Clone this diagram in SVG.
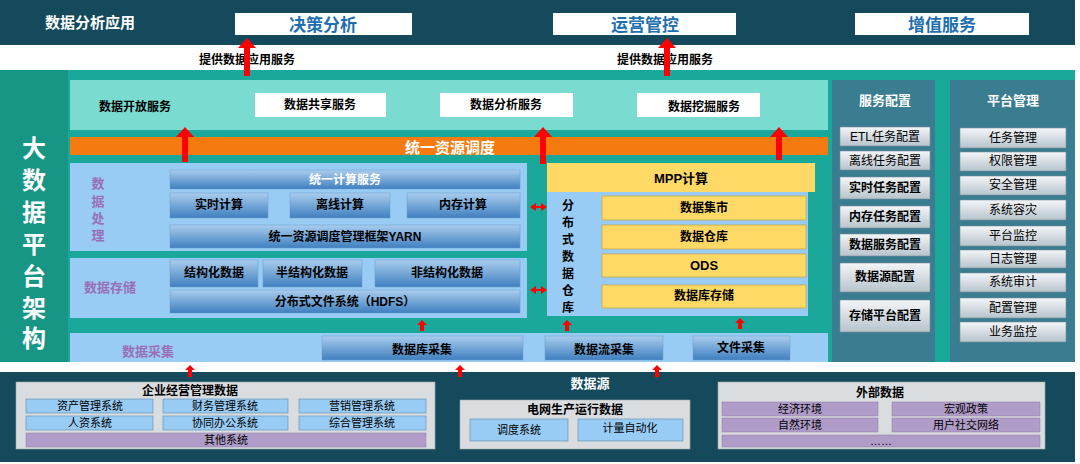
<svg xmlns="http://www.w3.org/2000/svg" width="1080" height="464" viewBox="0 0 1080 464">
<defs>
<style>
text{font-family:"Liberation Sans","Noto Sans CJK SC",sans-serif;font-weight:bold;text-anchor:middle;dominant-baseline:central}
.tt{font-size:17px;fill:#1f6fb0;font-weight:bold}
.b{fill:#000;font-size:12px}
.big{font-size:24px;fill:#fff}
.blue{fill:url(#gb);stroke:#6d9cc8;stroke-width:0.5}
.bt{fill:#000;font-size:12px}
.yel{fill:#ffd966;stroke:#c9a84a;stroke-width:0.8}
.gray{fill:url(#gg);stroke:#7a8d99;stroke-width:0.6}
.gt{fill:#000;font-size:12px;font-weight:normal}
.wt{fill:#fff;font-size:13px}
.pur{fill:#9970b8;font-size:13px}
.lb{fill:#99ccf5}
.sb{fill:#99ccf5;stroke:#5a8ab0;stroke-width:0.6}
.sp{fill:#b09cc8;stroke:#8a7aa0;stroke-width:0.5}
.st{fill:#000;font-size:11px;font-weight:normal}
.arr{fill:#f00}
</style>
<linearGradient id="gb" x1="0" y1="0" x2="0" y2="1"><stop offset="0" stop-color="#a9cdee"/><stop offset="1" stop-color="#3f7fbf"/></linearGradient>
<linearGradient id="gg" x1="0" y1="0" x2="0" y2="1"><stop offset="0" stop-color="#f4f6f8"/><stop offset="1" stop-color="#b7c3cc"/></linearGradient>
</defs>
<rect width="1080" height="464" fill="#fff"/>
<g id="apps">
<rect x="0" y="0" width="1075" height="45" fill="#154a5c"/>
<text x="90" y="22" class="wt" style="font-size:15px">数据分析应用</text>
<rect x="235" y="13" width="177" height="22" fill="#fff"/><text x="323" y="25" class="tt">决策分析</text>
<rect x="553" y="13" width="183" height="22" fill="#fff"/><text x="645" y="25" class="tt">运营管控</text>
<rect x="855" y="13" width="174" height="22" fill="#fff"/><text x="942" y="25" class="tt">增值服务</text>
<text x="247" y="60" class="b">提供数据应用服务</text>
<text x="665" y="60" class="b">提供数据应用服务</text>
</g>
<g id="platform">
<rect x="0" y="70" width="1075" height="292" fill="#1aa89a"/>
<rect x="0" y="70" width="68" height="292" fill="#179686"/>
<text x="34" y="148" class="big">大</text>
<text x="34" y="180" class="big">数</text>
<text x="34" y="212" class="big">据</text>
<text x="34" y="244" class="big">平</text>
<text x="34" y="276" class="big">台</text>
<text x="34" y="308" class="big">架</text>
<text x="34" y="338" class="big">构</text>
</g>
<g id="open">
<rect x="70" y="80" width="758" height="50" fill="#7adbd0"/>
<text x="135" y="107" class="b">数据开放服务</text>
<rect x="255" y="93" width="131" height="24" fill="#fff"/><text x="320" y="105" class="b">数据共享服务</text>
<rect x="440" y="93" width="133" height="24" fill="#fff"/><text x="506" y="105" class="b">数据分析服务</text>
<rect x="637" y="93" width="123" height="24" fill="#fff"/><text x="704" y="107" class="b">数据挖掘服务</text>
</g>
<g id="sched">
<rect x="70" y="137" width="758" height="18" fill="#f57a10"/>
<text x="450" y="147" style="font-size:15px;fill:#fff">统一资源调度</text>
</g>
<g id="proc">
<rect x="70" y="163" width="457" height="88" class="lb"/>
<text x="98" y="183" class="pur">数</text><text x="98" y="201" class="pur">据</text><text x="98" y="218" class="pur">处</text><text x="98" y="235" class="pur">理</text>
<rect x="170" y="170" width="350" height="19" class="blue"/><text x="345" y="180" class="wt" style="font-size:12px">统一计算服务</text>
<rect x="170" y="193" width="98" height="25" class="blue"/><text x="219" y="205" class="bt">实时计算</text>
<rect x="290" y="193" width="100" height="25" class="blue"/><text x="340" y="205" class="bt">离线计算</text>
<rect x="407" y="193" width="113" height="25" class="blue"/><text x="463" y="205" class="bt">内存计算</text>
<rect x="170" y="225" width="350" height="23" class="blue"/><text x="345" y="237" class="bt">统一资源调度管理框架YARN</text>
</g>
<g id="store">
<rect x="70" y="258" width="457" height="60" class="lb"/>
<text x="110" y="287" class="pur">数据存储</text>
<rect x="170" y="260" width="88" height="27" class="blue"/><text x="214" y="273" class="bt">结构化数据</text>
<rect x="263" y="260" width="99" height="27" class="blue"/><text x="312" y="273" class="bt">半结构化数据</text>
<rect x="375" y="260" width="145" height="27" class="blue"/><text x="447" y="273" class="bt">非结构化数据</text>
<rect x="170" y="290" width="350" height="23" class="blue"/><text x="345" y="302" class="bt">分布式文件系统（HDFS）</text>
</g>
<g id="mpp">
<rect x="547" y="192" width="261" height="124" class="lb"/>
<rect x="547" y="163" width="268" height="29" fill="#ffd966"/>
<text x="681" y="178" class="b" style="font-size:13px">MPP计算</text>
<text x="568" y="206" class="b">分</text><text x="568" y="223" class="b">布</text><text x="568" y="240" class="b">式</text><text x="568" y="257" class="b">数</text><text x="568" y="274" class="b">据</text><text x="568" y="291" class="b">仓</text><text x="568" y="308" class="b">库</text>
<rect x="602" y="196" width="204" height="24" class="yel"/><text x="704" y="208" class="b">数据集市</text>
<rect x="602" y="225" width="204" height="24" class="yel"/><text x="704" y="237" class="b">数据仓库</text>
<rect x="602" y="254" width="204" height="23" class="yel"/><text x="704" y="265" class="b" style="font-size:13px">ODS</text>
<rect x="602" y="285" width="204" height="23" class="yel"/><text x="704" y="296" class="b">数据库存储</text>
</g>
<g id="collect">
<rect x="70" y="333" width="758" height="29" class="lb"/>
<text x="148" y="351" class="pur">数据采集</text>
<rect x="322" y="336" width="201" height="24" class="blue"/><text x="422" y="350" class="bt">数据库采集</text>
<rect x="545" y="336" width="118" height="24" class="blue"/><text x="604" y="350" class="bt">数据流采集</text>
<rect x="693" y="336" width="97" height="24" class="blue"/><text x="741" y="348" class="bt">文件采集</text>
</g>
<g id="svccfg">
<rect x="832" y="80" width="103" height="282" fill="#3a7c90"/>
<text x="885" y="100" class="wt">服务配置</text>
<rect x="840" y="127" width="90" height="19" class="gray"/><text x="885" y="137" class="gt">ETL任务配置</text>
<rect x="840" y="151" width="90" height="19" class="gray"/><text x="885" y="161" class="gt">离线任务配置</text>
<rect x="840" y="177" width="90" height="22" class="gray"/><text x="885" y="188" class="gt" style="font-weight:bold">实时任务配置</text>
<rect x="840" y="206" width="90" height="22" class="gray"/><text x="885" y="217" class="gt" style="font-weight:bold">内存任务配置</text>
<rect x="840" y="234" width="90" height="22" class="gray"/><text x="885" y="245" class="gt" style="font-weight:bold">数据服务配置</text>
<rect x="840" y="263" width="90" height="29" class="gray"/><text x="885" y="277" class="gt" style="font-weight:bold">数据源配置</text>
<rect x="840" y="300" width="90" height="32" class="gray"/><text x="885" y="316" class="gt" style="font-weight:bold">存储平台配置</text>
</g>
<g id="platmgr">
<rect x="950" y="80" width="125" height="282" fill="#3a7c90"/>
<text x="1013" y="100" class="wt">平台管理</text>
<rect x="960" y="128" width="106" height="20" class="gray"/><text x="1013" y="138" class="gt">任务管理</text>
<rect x="960" y="152" width="106" height="19" class="gray"/><text x="1013" y="161" class="gt">权限管理</text>
<rect x="960" y="176" width="106" height="19" class="gray"/><text x="1013" y="185" class="gt">安全管理</text>
<rect x="960" y="200" width="106" height="20" class="gray"/><text x="1013" y="210" class="gt">系统容灾</text>
<rect x="960" y="226" width="106" height="20" class="gray"/><text x="1013" y="236" class="gt">平台监控</text>
<rect x="960" y="250" width="106" height="18" class="gray"/><text x="1013" y="259" class="gt">日志管理</text>
<rect x="960" y="273" width="106" height="19" class="gray"/><text x="1013" y="282" class="gt">系统审计</text>
<rect x="960" y="298" width="106" height="20" class="gray"/><text x="1013" y="308" class="gt">配置管理</text>
<rect x="960" y="322" width="106" height="20" class="gray"/><text x="1013" y="332" class="gt">业务监控</text>
</g>
<g id="sources">
<rect x="0" y="372" width="1075" height="90" fill="#154a5c"/>
<text x="590" y="383" class="wt">数据源</text>
<rect x="16" y="382" width="419" height="67" fill="#d9dde0" stroke="#9aa" stroke-width="0.6"/>
<text x="190" y="391" class="b">企业经营管理数据</text>
<rect x="26" y="399" width="127" height="14" class="sb"/><text x="90" y="406" class="st">资产管理系统</text>
<rect x="163" y="399" width="125" height="14" class="sb"/><text x="225" y="406" class="st">财务管理系统</text>
<rect x="299" y="399" width="127" height="14" class="sb"/><text x="362" y="406" class="st">营销管理系统</text>
<rect x="26" y="416" width="127" height="14" class="sb"/><text x="90" y="423" class="st">人资系统</text>
<rect x="163" y="416" width="125" height="14" class="sb"/><text x="225" y="423" class="st">协同办公系统</text>
<rect x="299" y="416" width="127" height="14" class="sb"/><text x="362" y="423" class="st">综合管理系统</text>
<rect x="26" y="433" width="400" height="14" class="sp"/><text x="226" y="440" class="st">其他系统</text>
<rect x="460" y="400" width="230" height="49" fill="#d9dde0" stroke="#9aa" stroke-width="0.6"/>
<text x="575" y="410" class="b">电网生产运行数据</text>
<rect x="470" y="419" width="98" height="22" class="sb"/><text x="519" y="430" class="st">调度系统</text>
<rect x="578" y="419" width="105" height="22" class="sb"/><text x="630" y="428" class="st">计量自动化</text>
<rect x="718" y="382" width="327" height="67" fill="#d9dde0" stroke="#9aa" stroke-width="0.6"/>
<text x="880" y="393" class="b">外部数据</text>
<rect x="722" y="402" width="156" height="14" class="sp"/><text x="800" y="409" class="st">经济环境</text>
<rect x="892" y="402" width="148" height="14" class="sp"/><text x="966" y="409" class="st">宏观政策</text>
<rect x="722" y="418" width="156" height="14" class="sp"/><text x="800" y="425" class="st">自然环境</text>
<rect x="892" y="418" width="148" height="14" class="sp"/><text x="966" y="425" class="st">用户社交网络</text>
<rect x="722" y="435" width="318" height="12" class="sp"/><text x="881" y="441" class="st">……</text>
</g>
<g id="connectors">
<path class="arr" d="M247 38 L256 48 L250 48 L250 76 L244 76 L244 48 L238 48 Z"/>
<path class="arr" d="M667 38 L676 48 L670 48 L670 76 L664 76 L664 48 L658 48 Z"/>
<path class="arr" d="M185 127 L194 137 L188 137 L188 162 L182 162 L182 137 L176 137 Z"/>
<path class="arr" d="M543 127 L552 137 L546 137 L546 164 L540 164 L540 137 L534 137 Z"/>
<path class="arr" d="M779 127 L788 137 L782 137 L782 160 L776 160 L776 137 L770 137 Z"/>
<path class="arr" d="M530 207 L536 203 L536 206 L541 206 L541 203 L547 207 L541 211 L541 208 L536 208 L536 211 Z"/>
<path class="arr" d="M530 290 L536 286 L536 289 L541 289 L541 286 L547 290 L541 294 L541 291 L536 291 L536 294 Z"/>
<path class="arr" d="M422 320 L427 325 L424 325 L424 331 L420 331 L420 325 L417 325 Z"/>
<path class="arr" d="M567 320 L572 325 L569 325 L569 331 L565 331 L565 325 L562 325 Z"/>
<path class="arr" d="M740 318 L745 323 L742 323 L742 329 L738 329 L738 323 L735 323 Z"/>
<path class="arr" d="M190 365 L195 370 L192 370 L192 377 L188 377 L188 370 L185 370 Z"/>
<path class="arr" d="M460 365 L465 370 L462 370 L462 377 L458 377 L458 370 L455 370 Z"/>
<path class="arr" d="M657 365 L662 370 L659 370 L659 377 L655 377 L655 370 L652 370 Z"/>
</g>
</svg>
